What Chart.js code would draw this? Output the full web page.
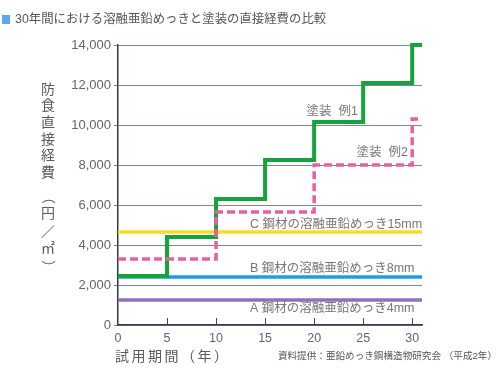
<!DOCTYPE html>
<html><head><meta charset="utf-8">
<script src="https://cdn.jsdelivr.net/npm/chart.js@4"></script>
<style>html,body{margin:0;padding:0;background:#fff}#wrap{position:relative;width:499px;height:379px}</style>
</head><body><div id="wrap"><canvas id="c" width="499" height="379"></canvas></div>
<script>
const chartTitle = '30年間における溶融亜鉛めっきと塗装の直接経費の比較';
const yTitleChars = ['防','食','直','接','経','費','（','円','／','㎡','）'];
const xTitleChars = ['試','用','期','間','（','年','）'];
const sourceNote = '資料提供：亜鉛めっき鋼構造物研究会 （平成2年）';
const yTicks = [0,2000,4000,6000,8000,10000,12000,14000];
const xTicks = [0,5,10,15,20,25,30];
const xMax = 31;
const paint1Years = [0,5,10,15,20,25,30,31];
const paint1Cost  = [2450,4400,6300,8250,10150,12100,14000,14000];
const paint2Years = [0,10,20,30,31];
const paint2Cost  = [3300,5650,8000,10300,10300];
const galvYears = [0,31];
const galvC = [4650,4650];
const galvB = [2400,2400];
const galvA = [1250,1250];
const seriesLabels = ['塗装  例1','塗装  例2','C 鋼材の溶融亜鉛めっき15mm','B 鋼材の溶融亜鉛めっき8mm','A 鋼材の溶融亜鉛めっき4mm'];

const FAM = "'Liberation Sans','Noto Sans CJK JP',sans-serif";
const pts = (xs, ys) => xs.map((x,i)=>({x, y: ys[i]}));

const labelSpots = [
  {text: seriesLabels[0], x: 24.47, y: 10650, align: 'right'},
  {text: seriesLabels[1], x: 29.57, y: 8600, align: 'right'},
  {text: seriesLabels[2], x: 13.45, y: 5000, align: 'left'},
  {text: seriesLabels[3], x: 13.45, y: 2800, align: 'left'},
  {text: seriesLabels[4], x: 13.45, y: 800, align: 'left'}
];

const textPlugin = {
  id: 'texts',
  afterDraw(chart) {
    const {ctx, scales: {x, y}} = chart;
    ctx.save();
    // title
    ctx.fillStyle = '#5ba8ec';
    ctx.fillRect(2, 15, 8, 9);
    ctx.fillStyle = '#555';
    ctx.font = "12.4px " + FAM;
    ctx.textBaseline = 'middle';
    ctx.textAlign = 'left';
    ctx.fillText(chartTitle, 15, 20);
    // x tick marks (upward)
    ctx.strokeStyle = '#3a4660';
    ctx.lineWidth = 1;
    xTicks.forEach(v => {
      if (v === 0) return;
      const px = Math.round(x.getPixelForValue(v)) + 0.5;
      ctx.beginPath();
      ctx.moveTo(px, y.bottom);
      ctx.lineTo(px, y.bottom - 7);
      ctx.stroke();
    });
    // series labels
    ctx.fillStyle = '#777';
    ctx.font = "12.5px " + FAM;
    labelSpots.forEach(l => {
      ctx.textAlign = l.align;
      ctx.fillText(l.text, x.getPixelForValue(l.x), y.getPixelForValue(l.y));
    });
    // y title (vertical)
    ctx.fillStyle = '#5a5a5a';
    ctx.font = "14px " + FAM;
    ctx.textAlign = 'center';
    yTitleChars.forEach((ch, i) => {
      const py = i < 6 ? 90 + i * 16.6 : 197 + (i - 6) * 17.5;
      if (ch === '（' || ch === '）') {
        ctx.save();
        ctx.translate(48, py);
        ctx.rotate(Math.PI / 2);
        ctx.fillText(ch, 0, 0);
        ctx.restore();
      } else {
        ctx.fillText(ch, 48, py);
      }
    });
    // x title
    ctx.textAlign = 'left';
    xTitleChars.forEach((ch, i) => {
      ctx.fillText(ch, 115 + i * 16.5, 357);
    });
    // source
    ctx.fillStyle = '#555';
    ctx.font = "9.6px " + FAM;
    ctx.textAlign = 'right';
    ctx.fillText(sourceNote, 497, 356);
    ctx.restore();
  }
};

const base = {pointRadius: 0, fill: false, stepped: true, clip: false, tension: 0};
new Chart(document.getElementById('c'), {
  type: 'line',
  data: {
    datasets: [
      Object.assign({}, base, {label: seriesLabels[1], data: pts(paint2Years, paint2Cost), borderColor: '#e9609c', borderWidth: 3.5, borderDash: [8, 4], order: 0}),
      Object.assign({}, base, {label: seriesLabels[0], data: pts(paint1Years, paint1Cost), borderColor: '#14a33c', borderWidth: 4, order: 1}),
      Object.assign({}, base, {label: seriesLabels[2], data: pts(galvYears, galvC), borderColor: '#f7dc2a', borderWidth: 3.5, order: 2}),
      Object.assign({}, base, {label: seriesLabels[3], data: pts(galvYears, galvB), borderColor: '#1b9ee2', borderWidth: 3.5, order: 3}),
      Object.assign({}, base, {label: seriesLabels[4], data: pts(galvYears, galvA), borderColor: '#8e72b9', borderWidth: 3.5, order: 4})
    ]
  },
  options: {
    responsive: false, animation: false, devicePixelRatio: 1,
    layout: {padding: {left: 0, right: 77, top: 45, bottom: 0}},
    plugins: {legend: {display: false}, tooltip: {enabled: false}, title: {display: false}},
    scales: {
      x: {
        type: 'linear', min: 0, max: xMax,
        afterBuildTicks(s) { s.ticks = xTicks.map(v => ({value: v})); },
        grid: {drawOnChartArea: false, drawTicks: false},
        border: {display: true, color: '#2f3b55', width: 1.5},
        ticks: {padding: 6, color: '#666', font: {size: 12.5, family: FAM}, maxRotation: 0, autoSkip: false},
        afterFit(s) { s.height = 54; }
      },
      y: {
        min: 0, max: 14000,
        afterBuildTicks(s) { s.ticks = yTicks.map(v => ({value: v})); },
        grid: {color: '#7f8696', lineWidth: 1, tickLength: 4, drawTicks: true},
        border: {display: true, color: '#2f3b55', width: 1.5},
        ticks: {padding: 3, color: '#666', font: {size: 13, family: FAM}, callback: v => v.toLocaleString('en-US')},
        afterFit(s) { s.width = 118; }
      }
    }
  },
  plugins: [textPlugin]
});
</script>
</body></html>
